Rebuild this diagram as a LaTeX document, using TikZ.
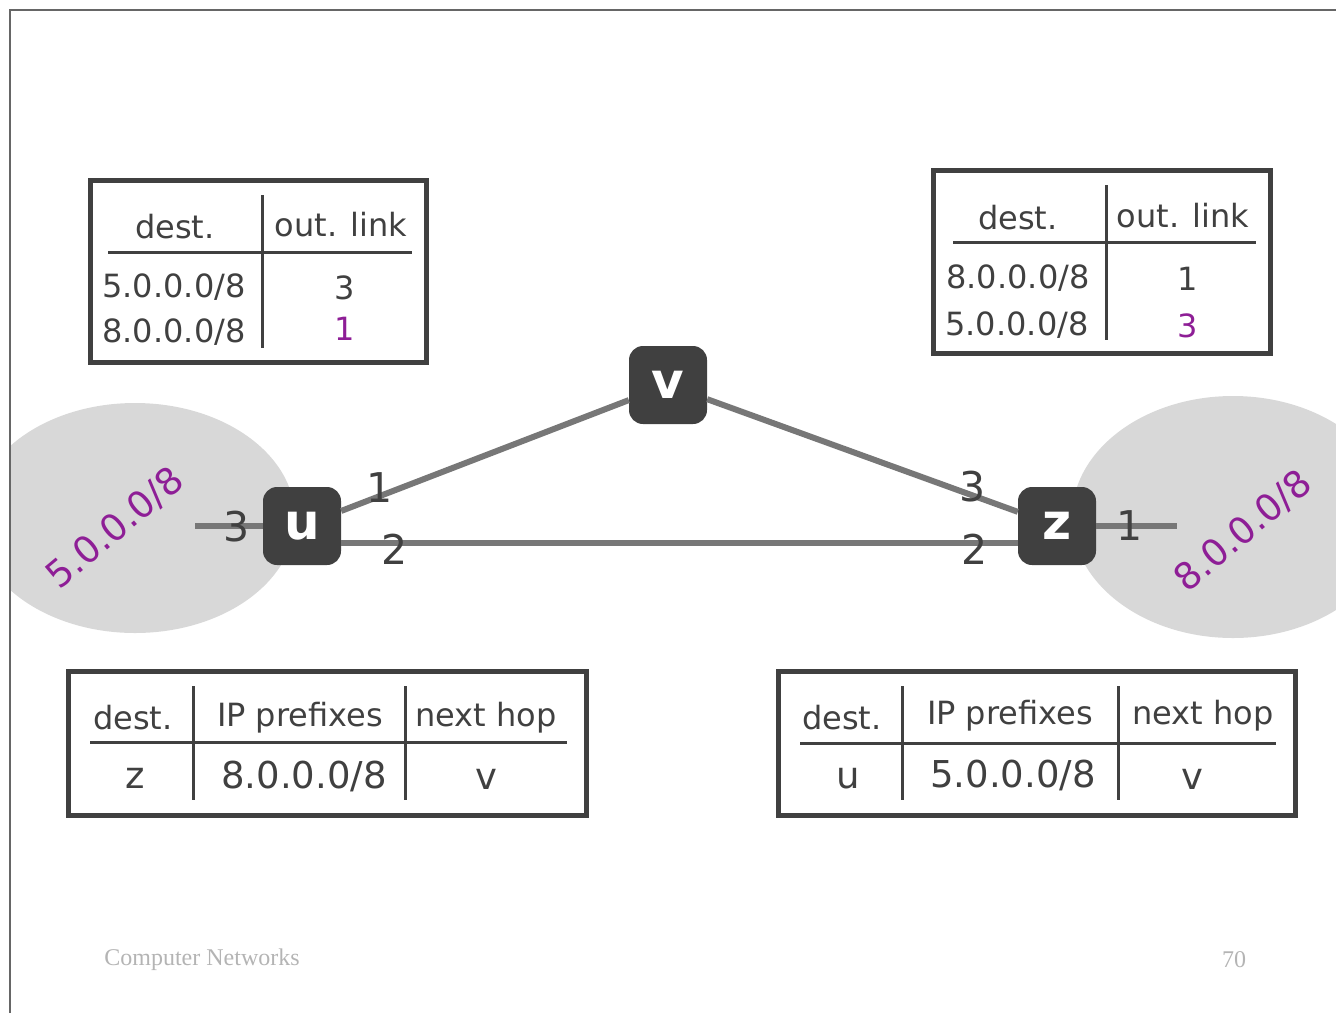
\documentclass[tikz,border=0pt]{standalone}
\usepackage{fontspec}
\setmainfont{DejaVu Sans}
\newfontfamily\footfont{Liberation Serif}
\definecolor{ink}{HTML}{404040}
\definecolor{linkgray}{HTML}{777777}
\definecolor{blobgray}{HTML}{D8D8D8}
\definecolor{prefixpurple}{HTML}{8E1E96}
\definecolor{footgray}{HTML}{B4B4B4}
\begin{document}
\begin{tikzpicture}[x=1pt, y=-1pt,
  router/.style={fill=ink, rounded corners=14pt, minimum size=78pt, inner sep=0pt, text=white, font=\fontsize{50}{50}\selectfont\bfseries},
  link/.style={draw=linkgray, line width=6pt},
  port/.style={text=ink, font=\fontsize{41}{41}\selectfont, inner sep=0pt},
  cell/.style={text=ink, font=\fontsize{32}{32}\selectfont, inner sep=0pt},
  bigcell/.style={text=ink, font=\fontsize{37}{37}\selectfont, inner sep=0pt},
  tablebox/.style={draw=ink, line width=5pt},
  tablerule/.style={draw=ink, line width=3pt},
  prefixlabel/.style={text=prefixpurple, font=\fontsize{37}{37}\selectfont, rotate=40, inner sep=0pt},
  blob/.style={fill=blobgray}
]
\useasboundingbox (0,0) rectangle (1336,1013);
% slide frame
\draw[gray!80!black, line width=1.5pt] (10,1013) -- (10,10) -- (1336,10);
% the two stub networks
\begin{scope}
  \clip (11,11) rectangle (1336,1013);
  \fill[blob] (135,518) ellipse [x radius=160, y radius=115];
  \fill[blob] (1233,517) ellipse [x radius=161, y radius=121];
\end{scope}
\node[prefixlabel] (pfxu) at (115,528) {5.0.0.0/8};
\node[prefixlabel] (pfxz) at (1243,531) {8.0.0.0/8};

% routers
\node[router] (v) at (668,385) {v};
\node[router] (u) at (302,526) {u};
\node[router] (z) at (1057,526) {z};
\coordinate (ustub) at (195,526);
\coordinate (zstub) at (1177,526);

\draw[link] (u) -- (v);
\draw[link] (v) -- (z);
\draw[link] ([yshift=-17pt]u.east) -- ([yshift=-17pt]z.west);
\draw[link] (ustub) -- (u.west);
\draw[link] (z.east) -- (zstub);

% port numbers
\foreach \n/\x/\y/\p in {pu3/237/527/3, pu1/380/488/1, pu2/395/549/2, pz3/973/487/3, pz2/975/549/2, pz1/1130/526/1}
  \node[port] (\n) at (\x,\y) {\p};

% forwarding table of u
\draw[tablebox] (90,180) rectangle (426,362);
\draw[tablerule] (108,252) -- (412,252);
\draw[tablerule] (262,195) -- (262,348);
\node[cell] (fu-dest) at (175,227) {dest.};
\node[cell] (fu-out) at (341,225) {out. link};
\node[cell] (fu-p1) at (174,287) {5.0.0.0/8};
\node[cell] (fu-l1) at (345,288) {3};
\node[cell] (fu-p2) at (174,332) {8.0.0.0/8};
\node[cell, text=prefixpurple] (fu-l2) at (345,329) {1};

% forwarding table of z
\draw[tablebox] (933,170) rectangle (1270,353);
\draw[tablerule] (953,242) -- (1256,242);
\draw[tablerule] (1106,185) -- (1106,340);
\node[cell] (fz-dest) at (1018,218) {dest.};
\node[cell] (fz-out) at (1183,216) {out. link};
\node[cell] (fz-p1) at (1018,278) {8.0.0.0/8};
\node[cell] (fz-l1) at (1188,279) {1};
\node[cell] (fz-p2) at (1017,325) {5.0.0.0/8};
\node[cell, text=prefixpurple] (fz-l2) at (1188,326) {3};

% routing table of u
\draw[tablebox] (68,671) rectangle (586,815);
\draw[tablerule] (90,742) -- (567,742);
\foreach \x in {193,405}
  \draw[tablerule] (\x,686) -- (\x,800);
\node[cell] (ru-dest) at (133,718) {dest.};
\node[cell] (ru-ip) at (300,718) {IP prefixes};
\node[cell] (ru-hop) at (486,718) {next hop};
\node[bigcell] (ru-d) at (135,778) {z};
\node[bigcell] (ru-p) at (304,776) {8.0.0.0/8};
\node[bigcell] (ru-h) at (486,779) {v};

% routing table of z
\draw[tablebox] (778,671) rectangle (1295,815);
\draw[tablerule] (800,743) -- (1276,743);
\foreach \x in {902,1118}
  \draw[tablerule] (\x,686) -- (\x,800);
\node[cell] (rz-dest) at (842,718) {dest.};
\node[cell] (rz-ip) at (1010,716) {IP prefixes};
\node[cell] (rz-hop) at (1203,716) {next hop};
\node[bigcell] (rz-d) at (848,778) {u};
\node[bigcell] (rz-p) at (1013,775) {5.0.0.0/8};
\node[bigcell] (rz-h) at (1192,779) {v};

% footer
\node[font=\footfont\fontsize{24}{24}\selectfont, text=footgray] (foot) at (202,960) {Computer Networks};
\node[font=\footfont\fontsize{24}{24}\selectfont, text=footgray] (pageno) at (1234,960) {70};
\end{tikzpicture}
\end{document}
